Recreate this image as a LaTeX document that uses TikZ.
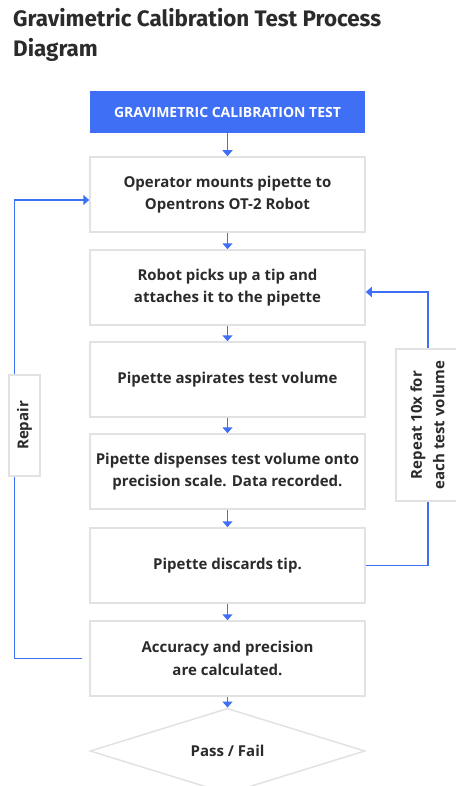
\documentclass[tikz,border=0pt]{standalone}
\usepackage{fontspec}
\setmainfont{Open Sans}
\newfontfamily\titlefont{Fira Sans}
\usepackage{tikz}
\usetikzlibrary{shapes.geometric,arrows.meta,positioning}

\definecolor{flowblue}{HTML}{3F6FF5}
\definecolor{boxgray}{HTML}{E2E2E2}
\definecolor{inkgray}{HTML}{2B2B2B}

\begin{document}
\begin{tikzpicture}[x=1pt, y=-1pt,
			every node/.style={text=inkgray, font=\bfseries\fontsize{15}{22.5}\selectfont, inner sep=0pt},
			stepbox/.style={draw=boxgray, line width=1.5pt, fill=white, minimum width=275pt, minimum height=75pt, align=center},
			sidebox/.style={draw=boxgray, line width=1.5pt, fill=white, rotate=90, align=center},
			flowarrow/.style={draw=flowblue, line width=1.5pt, -{Triangle[width=10pt,length=6pt]}},
			loopline/.style={draw=flowblue, line width=1.5pt}]
			
			\useasboundingbox (0,0) rectangle (455,786);
			
			% Define the title
			\node[anchor=north west, align=left, font=\titlefont\bfseries\fontsize{22.4}{30}\selectfont] (title) at (13,8) {Gravimetric Calibration Test Process\\Diagram};
			
			% Define the header
			\node[fill=flowblue, minimum width=275pt, minimum height=42pt, text=white, font=\bfseries\fontsize{14}{16}\selectfont] (test) at (227.5,112) {GRAVIMETRIC CALIBRATION TEST};
			
			% Define the steps
			\node[stepbox] (mount) at (227.5,194.5) {Operator mounts pipette to\\Opentrons OT-2 Robot};
			\node[stepbox] (tip) at (227.5,287.5) {Robot picks up a tip and\\attaches it to the pipette};
			\node[stepbox] (asp) at (227.5,379.5) {Pipette aspirates test volume};
			\node[stepbox] (disp) at (227.5,471.5) {Pipette dispenses test volume onto\\precision scale. Data recorded.};
			\node[stepbox] (disc) at (227.5,565.5) {Pipette discards tip.};
			\node[stepbox] (calc) at (227.5,658.5) {Accuracy and precision\\are calculated.};
			\node[draw=boxgray, line width=1.5pt, diamond, minimum width=275pt, minimum height=76pt] (pass) at (227.5,751) {Pass / Fail};
			
			% Draw the main flow
			\draw[flowarrow] (test) -- (mount);
			\draw[flowarrow] (mount) -- (tip);
			\draw[flowarrow] (tip) -- (asp);
			\draw[flowarrow] (asp) -- (disp);
			\draw[flowarrow] (disp) -- (disc);
			\draw[flowarrow] (disc) -- (calc);
			\draw[flowarrow] (calc) -- (pass);
			
			% Draw the loops
			\draw[flowarrow] ([xshift=-7pt]calc.west) -- ++(-68,0) |- ([yshift=-5.5pt]mount.west);
			\draw[flowarrow] (disc.east) -- ++(62,0) |- ([yshift=-4.5pt]tip.east);
			
			% Define the loop labels
			\node[sidebox, minimum width=101pt, minimum height=31pt] (repairbox) at (24.5,425.5) {Repair};
			\node[sidebox, minimum width=152pt, minimum height=63pt] (repeatbox) at (427.5,425) {Repeat 10x for\\each test volume};
		\end{tikzpicture}
\end{document}
